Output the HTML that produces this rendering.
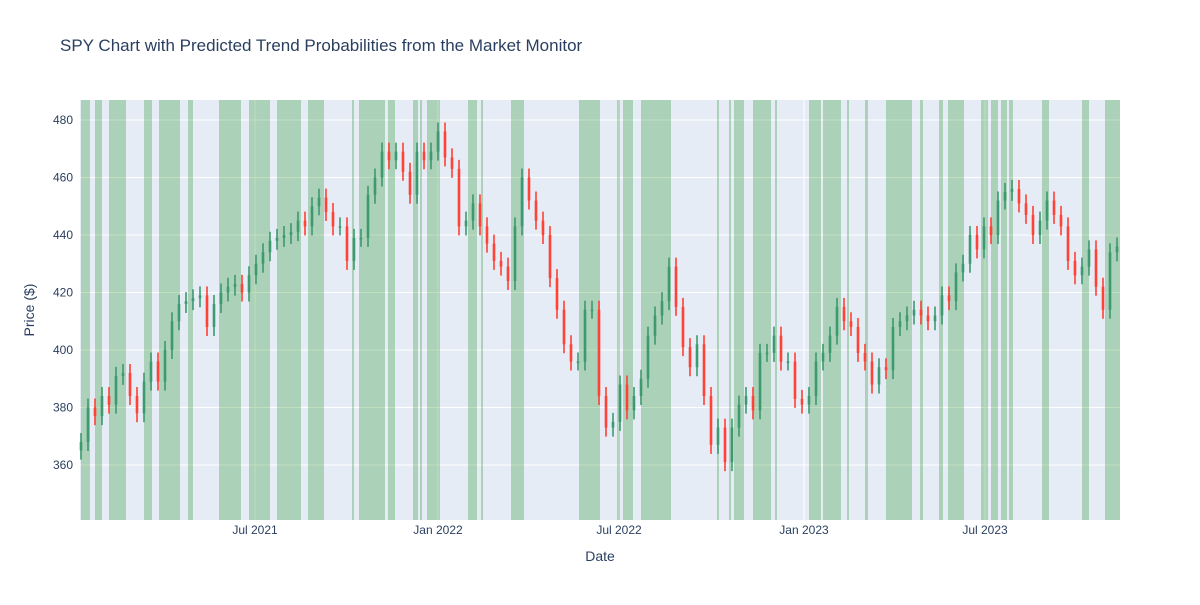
<!DOCTYPE html>
<html><head><meta charset="utf-8"><style>
body{margin:0;background:#fff;font-family:"Liberation Sans",sans-serif;}
svg text{font-family:"Liberation Sans",sans-serif;}
</style></head><body>
<svg id="chart" width="1200" height="600" xmlns="http://www.w3.org/2000/svg">
<rect width="1200" height="600" fill="#fff"/>
<text x="60" y="51" font-size="17" fill="#2a3f5f">SPY Chart with Predicted Trend Probabilities from the Market Monitor</text>
<rect x="80" y="100" width="1040" height="420" fill="#E5ECF6"/>
<g id="grid"></g><g id="bands"></g><g id="candles"></g><g id="axes"></g>
<text x="600" y="561" font-size="14" fill="#2a3f5f" text-anchor="middle">Date</text>
<text transform="translate(34,310) rotate(-90)" font-size="14" fill="#2a3f5f" text-anchor="middle">Price ($)</text>
</svg>
<script>
const yTicks=[360,380,400,420,440,460,480];
const xTickLabels=["Jul 2021","Jan 2022","Jul 2022","Jan 2023","Jul 2023"];
const xTickDays=[175,358,539,724,905];
const closes=[368,380,377,384,381,391,392,384,378,389,396,389,400,410,416,417,418,419,408,416,420,422,423,420,426,430,434,438,439,440,441,445,443,450,453,448,443,443,431,439,439,454,460,469,466,469,462,454,469,466,469,476,467,463,443,445,451,443,437,431,429,424,443,460,452,445,440,425,414,402,396,396,414,414,384,
373,375,388,379,384,390,405,412,417,429,415,401,394,402,384,367,373,361,373,381,384,379,399,399,405,396,396,383,381,384,396,399,405,415,410,408,399,396,388,394,393,408,410,412,414,412,410,412,419,417,427,430,440,435,443,440,452,455,456,451,447,440,445,452,447,443,431,426,429,435,422,414,434,436];
const bandStart=[1,15,29,64,79,108,139,169,197,228,272,279,308,333,340,347,388,401,431,499,537,543,561,637,649,654,673,695,729,743,767,785,806,840,859,868,901,911,921,929,962,1002,1025,1033];
const bandEnd=[10,22,46,72,100,113,161,190,221,244,274,305,315,338,342,360,397,403,444,520,540,553,591,639,651,664,691,697,741,761,769,788,832,843,863,884,908,918,927,933,969,1009,1033,1040];
const firstDay=1, stepDays=7;
const NS="http://www.w3.org/2000/svg";
const X=d=>80+d;
const Y=v=>120+(480-v)*2.875;
function mk(t,a,p){const e=document.createElementNS(NS,t);for(const k in a)e.setAttribute(k,a[k]);p.appendChild(e);return e;}
const grid=document.getElementById('grid'),axes=document.getElementById('axes');
yTicks.forEach(v=>{
 const l=mk('line',{x1:80,x2:1120,y1:Y(v),y2:Y(v),stroke:'#fff','stroke-width':1},grid);
 
 
 const t=mk('text',{x:73,y:Y(v)+4,'font-size':12,fill:'#2a3f5f','text-anchor':'end'},axes);
 t.textContent=v;
 
 
});
xTickDays.forEach((d,i)=>{
 const l=mk('line',{x1:X(d),x2:X(d),y1:100,y2:520,stroke:'#fff','stroke-width':1},grid);
 
 
 const t=mk('text',{x:X(d),y:534,'font-size':12,fill:'#2a3f5f','text-anchor':'middle'},axes);
 t.textContent=xTickLabels[i];
 
 
});
const bands=document.getElementById('bands');
bandStart.forEach((s,i)=>{
 const r=mk('rect',{x:X(s),y:100,width:X(bandEnd[i])-X(s),height:420,fill:'rgba(0,128,0,0.25)'},bands);
 
 
});
const cg=document.getElementById('candles');
closes.forEach((c,i)=>{
 const o=i===0?365:closes[i-1];
 const col=c>=o?'#3D9970':'#FF4136';
 const x=X(firstDay+i*stepDays);
 const top=Y(Math.max(o,c)),bot=Y(Math.min(o,c));
 const w=mk('line',{x1:x,x2:x,y1:top-9,y2:bot+9,stroke:col,'stroke-width':1.6},cg);
 
 
 const r=mk('rect',{x:x-1.3,y:top,width:2.6,height:Math.max(1.5,bot-top),fill:col},cg);
 
 
});
</script>
</body></html>
